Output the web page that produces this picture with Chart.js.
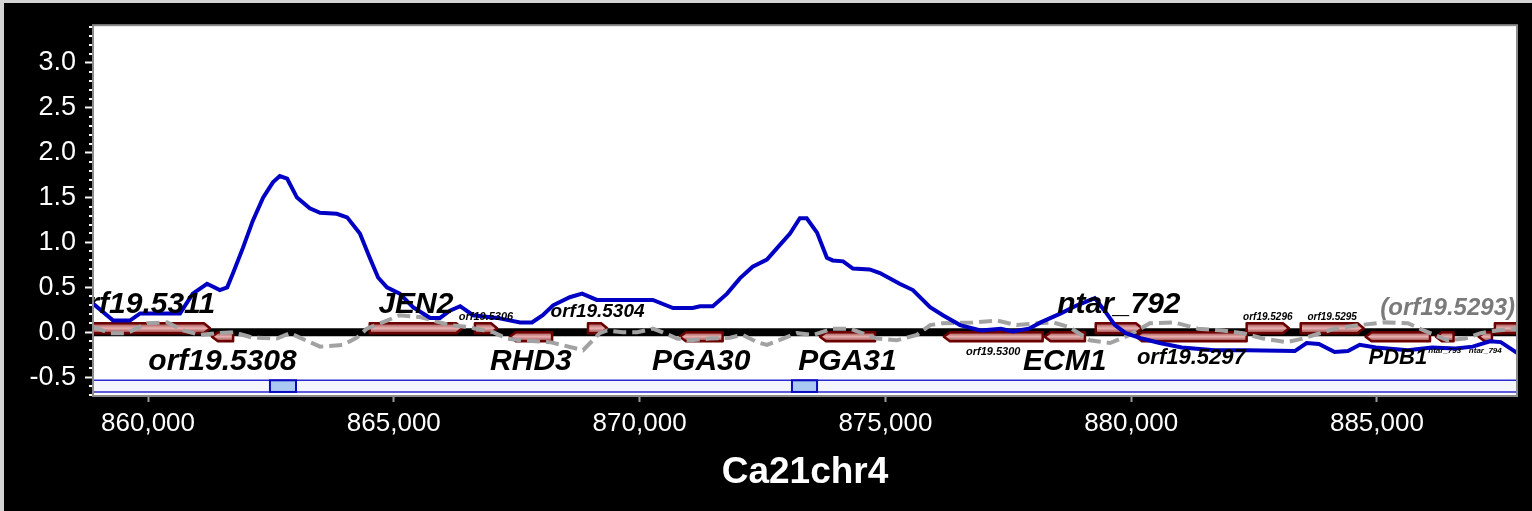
<!DOCTYPE html>
<html>
<head>
<meta charset="utf-8">
<script src="https://cdn.jsdelivr.net/npm/chart.js@4.4.1/dist/chart.umd.min.js"></script>
<style>
  html, body { margin: 0; padding: 0; background: #000; }
  canvas { display: block; }
</style>
</head>
<body>
<canvas id="chart" width="1532" height="511"></canvas>
<script>
// Genomic window on Ca21chr4 (bp)
const xMin = 858880;
const xMax = 887850;
const yMin = -0.71;
const yMax = 3.42;

const xTicks = [860000, 865000, 870000, 875000, 880000, 885000];
const yTicks = [-0.5, 0.0, 0.5, 1.0, 1.5, 2.0, 2.5, 3.0];

// Enrichment signal (blue)
const signalPos = [858880, 859290, 859630, 859840, 860650, 860910, 861200, 861460, 861610, 861730,
  861930, 862130, 862340, 862540, 862680, 862830, 863030, 863290, 863500, 863840,
  864050, 864310, 864510, 864680, 864860, 865120, 865390, 865740, 865940, 866140,
  866350, 866610, 867100, 867570, 867810, 868030, 868240, 868580, 868830, 869130,
  870270, 870680, 871080, 871230, 871490, 871780, 872040, 872300, 872590, 872850,
  873060, 873260, 873400, 873610, 873810, 873930, 874140, 874340, 874680, 874890,
  875290, 875560, 875910, 876170, 876520, 876940, 877350, 877590, 877920, 878160,
  878570, 878900, 879260, 879460, 879670, 879890, 880220, 880580, 881030, 881700,
  882350, 883330, 883570, 883820, 884140, 884410, 884650, 884980, 885630, 886120,
  886600, 886950, 887300, 887520, 887850];
const signalVal = [0.32, 0.13, 0.13, 0.21, 0.21, 0.43, 0.54, 0.47, 0.50, 0.66,
  0.94, 1.24, 1.50, 1.67, 1.74, 1.71, 1.50, 1.38, 1.33, 1.32,
  1.28, 1.10, 0.83, 0.61, 0.50, 0.43, 0.28, 0.16, 0.16, 0.24,
  0.29, 0.19, 0.16, 0.11, 0.11, 0.19, 0.30, 0.39, 0.43, 0.36,
  0.36, 0.27, 0.27, 0.29, 0.29, 0.43, 0.60, 0.73, 0.81, 0.97,
  1.10, 1.27, 1.27, 1.11, 0.83, 0.80, 0.79, 0.71, 0.70, 0.66,
  0.54, 0.47, 0.28, 0.19, 0.08, 0.02, 0.04, 0.01, 0.04, 0.11,
  0.21, 0.30, 0.38, 0.24, 0.08, -0.01, -0.07, -0.12, -0.17, -0.20,
  -0.20, -0.21, -0.12, -0.13, -0.22, -0.21, -0.14, -0.17, -0.20, -0.17,
  -0.18, -0.16, -0.10, -0.11, -0.23];

// Control track (grey, dashed)
const controlPos = [858880, 859230, 859570, 859980, 860390, 860710, 861060, 861400, 861730, 862130,
  862620, 862890, 863290, 863500, 863970, 864250, 864450, 864860, 865120, 865530,
  865800, 866140, 866490, 867020, 867300, 867570, 868180, 868850, 869190, 869340,
  869660, 869950, 870270, 870470, 870760, 871020, 871430, 871840, 872100, 872390,
  872590, 872920, 873200, 873530, 873930, 874280, 874830, 875230, 875640, 875910,
  876170, 876780, 877270, 877670, 878080, 878410, 878730, 879160, 879570, 879970,
  880380, 880870, 881360, 881860, 882270, 882680, 883170, 883490, 884140, 884650,
  885140, 885630, 885950, 886440, 886790, 887110, 887440, 887850];
const controlVal = [0.06, -0.01, -0.01, 0.10, 0.11, 0.02, -0.03, -0.01, 0.00, -0.06,
  -0.07, -0.01, -0.11, -0.16, -0.14, -0.06, 0.04, 0.13, 0.19, 0.17,
  0.13, 0.08, 0.06, 0.00, -0.07, -0.09, -0.11, -0.20, -0.01, 0.02,
  0.00, 0.00, 0.04, 0.00, -0.07, -0.09, -0.07, -0.06, -0.03, -0.11,
  -0.14, -0.07, -0.01, -0.03, 0.04, 0.04, -0.07, -0.09, -0.03, 0.08,
  0.10, 0.11, 0.13, 0.08, 0.10, 0.11, 0.06, -0.09, -0.12, -0.03,
  0.10, 0.11, 0.04, 0.02, -0.01, -0.07, -0.11, -0.07, 0.04, 0.08,
  0.11, 0.10, 0.02, -0.09, -0.07, -0.01, 0.02, 0.04];

// Gene annotation track
const geneNames  = ['orf19.5311', 'JEN2', 'orf19.5306', 'orf19.5304', 'ntar_792', 'orf19.5296', 'orf19.5295', '(orf19.5293)',
                    'orf19.5308', 'RHD3', 'PGA30', 'PGA31', 'orf19.5300', 'ECM1', 'orf19.5297', 'PDB1', 'ntar_793', 'ntar_794'];
const geneStart  = [858500, 864510, 866650, 868950, 879280, 882350, 883450, 887400,
                    861300, 867360, 870820, 873670, 876190, 878240, 880100, 884770, 886200, 887070];
const geneEnd    = [861260, 866390, 867100, 869340, 880220, 883210, 884730, 888400,
                    861730, 868220, 871690, 874790, 878200, 879060, 882350, 886080, 886560, 887340];
const geneStrand = [1, 1, 1, 1, 1, 1, 1, 1,
                    -1, -1, -1, -1, -1, -1, -1, -1, -1, -1];

// Called peak regions
const peakStart = [862480, 873100];
const peakEnd   = [863010, 873610];

// Label appearance per gene (font px, colour)
const labelStyle = {
  'orf19.5311': { size: 30 }, 'JEN2': { size: 30 }, 'orf19.5306': { size: 11 },
  'orf19.5304': { size: 19 }, 'ntar_792': { size: 30 }, 'orf19.5296': { size: 10 },
  'orf19.5295': { size: 10 }, '(orf19.5293)': { size: 24, color: '#7a7a7a' },
  'orf19.5308': { size: 30 }, 'RHD3': { size: 30 }, 'PGA30': { size: 30 }, 'PGA31': { size: 30 },
  'orf19.5300': { size: 11 }, 'ECM1': { size: 30 }, 'orf19.5297': { size: 22 },
  'PDB1': { size: 22 }, 'ntar_793': { size: 8 }, 'ntar_794': { size: 8 }
};

const FONT = '"Liberation Sans", Arial, Helvetica, sans-serif';

function genePath(ctx, x0, x1, top, bot, strand) {
  const mid = (top + bot) / 2;
  const tip = Math.min(6, (x1 - x0) / 2);
  ctx.beginPath();
  if (strand > 0) {
    ctx.moveTo(x0, top); ctx.lineTo(x1 - tip, top); ctx.lineTo(x1, mid);
    ctx.lineTo(x1 - tip, bot); ctx.lineTo(x0, bot);
  } else {
    ctx.moveTo(x1, top); ctx.lineTo(x0 + tip, top); ctx.lineTo(x0, mid);
    ctx.lineTo(x0 + tip, bot); ctx.lineTo(x1, bot);
  }
  ctx.closePath();
}

const trackPlugin = {
  id: 'genomeTrack',
  beforeDraw(chart) {
    const { ctx, width, height, chartArea: a } = chart;
    ctx.save();
    ctx.fillStyle = '#d4d4d4';
    ctx.fillRect(0, 0, width, height);
    ctx.fillStyle = '#000';
    ctx.fillRect(4, 3, width - 4, height - 3);
    ctx.fillStyle = '#fff';
    ctx.fillRect(a.left, a.top, a.right - a.left, a.bottom - a.top);
    ctx.restore();
  },
  beforeDatasetsDraw(chart) {
    const { ctx, chartArea: a, scales: { x, y } } = chart;
    ctx.save();
    ctx.beginPath();
    ctx.rect(a.left, a.top, a.right - a.left, a.bottom - a.top);
    ctx.clip();

    // peak band
    const bTop = y.getPixelForValue(-0.535);
    const bBot = y.getPixelForValue(-0.665);
    ctx.fillStyle = '#f5f5ff';
    ctx.fillRect(a.left, bTop, a.right - a.left, bBot - bTop);
    ctx.strokeStyle = '#2a2ad2';
    ctx.lineWidth = 1.5;
    ctx.beginPath();
    ctx.moveTo(a.left, bTop); ctx.lineTo(a.right, bTop);
    ctx.moveTo(a.left, bBot); ctx.lineTo(a.right, bBot);
    ctx.stroke();
    for (let i = 0; i < peakStart.length; i++) {
      const x0 = x.getPixelForValue(peakStart[i]);
      const x1 = x.getPixelForValue(peakEnd[i]);
      ctx.fillStyle = '#a9c8f2';
      ctx.fillRect(x0, bTop, x1 - x0, bBot - bTop);
      ctx.strokeStyle = '#0a0ac0';
      ctx.lineWidth = 2;
      ctx.strokeRect(x0, bTop, x1 - x0, bBot - bTop);
    }

    // baseline
    const zero = y.getPixelForValue(0);
    ctx.fillStyle = '#000';
    ctx.fillRect(a.left, zero - 4, a.right - a.left, 8);

    // genes
    for (let i = 0; i < geneNames.length; i++) {
      const x0 = x.getPixelForValue(geneStart[i]);
      const x1 = x.getPixelForValue(geneEnd[i]);
      const top = geneStrand[i] > 0 ? zero - 9 : zero;
      const bot = geneStrand[i] > 0 ? zero + 1 : zero + 9;
      const g = ctx.createLinearGradient(0, top, 0, bot);
      g.addColorStop(0, '#a04a4a');
      g.addColorStop(0.5, '#e9b2b2');
      g.addColorStop(1, '#913c3c');
      genePath(ctx, x0, x1, top, bot, geneStrand[i]);
      ctx.fillStyle = g;
      ctx.fill();
      ctx.strokeStyle = '#6c0000';
      ctx.lineWidth = 2.5;
      ctx.lineJoin = 'round';
      ctx.stroke();
    }
    ctx.restore();
  },
  afterDatasetsDraw(chart) {
    const { ctx, chartArea: a, scales: { x, y } } = chart;
    const zero = y.getPixelForValue(0);
    ctx.save();
    ctx.beginPath();
    ctx.rect(a.left, a.top, a.right - a.left, a.bottom - a.top);
    ctx.clip();
    for (let i = 0; i < geneNames.length; i++) {
      const name = geneNames[i];
      const st = labelStyle[name] || { size: 14 };
      ctx.font = `italic bold ${st.size}px ${FONT}`;
      ctx.fillStyle = st.color || '#000';
      ctx.textAlign = 'center';
      ctx.textBaseline = 'alphabetic';
      let cx = (x.getPixelForValue(geneStart[i]) + x.getPixelForValue(geneEnd[i])) / 2;
      const w = ctx.measureText(name).width;
      if (cx + w / 2 > a.right - 2) cx = a.right - 2 - w / 2;
      const by = geneStrand[i] > 0 ? zero - 9 - 0.33 * st.size : zero + 14 + 0.8 * st.size;
      ctx.fillText(name, cx, by);
    }
    ctx.restore();

    // frame
    ctx.save();
    ctx.strokeStyle = '#8c8c8c';
    ctx.lineWidth = 2;
    ctx.strokeRect(a.left, a.top, a.right - a.left, a.bottom - a.top);
    // minor ticks on the value axis (every 0.1)
    ctx.strokeStyle = '#ffffff';
    ctx.lineWidth = 2;
    for (let k = Math.ceil(yMin * 10); k <= Math.floor(yMax * 10); k++) {
      if (k % 5 === 0) continue;
      const py = Math.round(y.getPixelForValue(k / 10));
      ctx.beginPath();
      ctx.moveTo(a.left - 4, py);
      ctx.lineTo(a.left - 1, py);
      ctx.stroke();
    }
    ctx.restore();
  }
};

new Chart(document.getElementById('chart'), {
  type: 'line',
  data: {
    datasets: [
      {
        label: 'control',
        data: controlPos.map((p, i) => ({ x: p, y: controlVal[i] })),
        borderColor: '#a2a2a2',
        borderWidth: 4,
        borderDash: [13, 6],
        pointRadius: 0,
        tension: 0,
        fill: false,
        order: 2
      },
      {
        label: 'signal',
        data: signalPos.map((p, i) => ({ x: p, y: signalVal[i] })),
        borderColor: '#0000c4',
        borderWidth: 4,
        pointRadius: 0,
        tension: 0,
        fill: false,
        order: 1
      }
    ]
  },
  options: {
    responsive: false,
    animation: false,
    devicePixelRatio: 1,
    layout: { padding: { left: 0, right: 15, top: 24, bottom: 0 } },
    plugins: { legend: { display: false }, tooltip: { enabled: false } },
    scales: {
      x: {
        type: 'linear',
        min: xMin,
        max: xMax,
        afterBuildTicks: s => { s.ticks = xTicks.map(v => ({ value: v })); },
        afterFit: s => { s.height = 115; },
        ticks: {
          color: '#fff',
          font: { family: FONT, size: 26 },
          padding: 6,
          maxRotation: 0,
          autoSkip: false,
          callback: v => Number(v).toLocaleString('en-US')
        },
        grid: { drawOnChartArea: false, tickLength: 6, tickColor: '#9a9a9a', tickWidth: 2 },
        border: { display: false },
        title: {
          display: true,
          text: 'Ca21chr4',
          color: '#fff',
          font: { family: FONT, size: 37, weight: 'bold' },
          padding: { top: 0, bottom: 16 }
        }
      },
      y: {
        min: yMin,
        max: yMax,
        afterBuildTicks: s => { s.ticks = yTicks.map(v => ({ value: v })); },
        afterFit: s => { s.width = 93; },
        ticks: {
          color: '#fff',
          font: { family: FONT, size: 27 },
          padding: 9,
          callback: v => Number(v).toFixed(1)
        },
        grid: { drawOnChartArea: false, tickLength: 8, tickColor: '#fff', tickWidth: 2 },
        border: { display: false }
      }
    }
  },
  plugins: [trackPlugin]
});
</script>
</body>
</html>
